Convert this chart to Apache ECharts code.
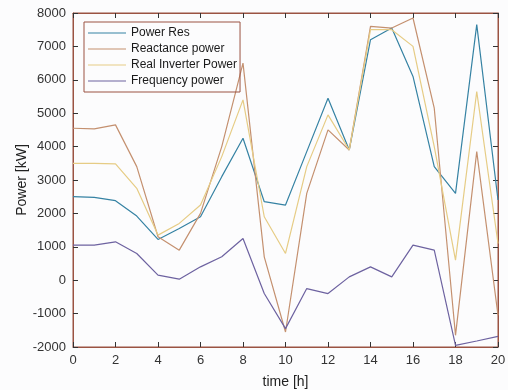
<!DOCTYPE html>
<html>
<head>
<meta charset="utf-8">
<script src="https://cdn.jsdelivr.net/npm/echarts@6/dist/echarts.min.js"></script>
<style>
html,body{margin:0;padding:0;background:#fcfcfd;}
#c{width:508px;height:390px;}
</style>
</head>
<body>
<div id="c"></div>
<script>
const hours = [0,1,2,3,4,5,6,7,8,9,10,11,12,13,14,15,16,17,18,19,20];
const seriesNames = ['Power Res','Reactance power','Real Inverter Power','Frequency power'];
const powerRes = [2500,2480,2380,1920,1220,1550,1900,3100,4250,2350,2250,3850,5450,3900,7200,7550,6100,3400,2600,7650,2400];
const reactancePower = [4550,4530,4650,3400,1300,900,2000,4000,6500,700,-1550,2600,4500,3900,7600,7550,7850,5150,-1650,3850,-1050];
const realInverterPower = [3500,3500,3480,2750,1350,1700,2250,3700,5400,1900,800,3400,4950,3900,7500,7500,7000,4000,600,5650,1100];
const frequencyPower = [1050,1050,1150,800,150,30,400,700,1250,-400,-1450,-250,-400,100,400,100,1050,900,-1950,-1820,-1680];
const xTicks = {min:0,max:20,interval:2};
const yTicks = {min:-2000,max:8000,interval:1000};

const colors = ['#3582a3','#c4906f','#e6cc85','#6d62a0'];
const frame = '#9b5342';
const font = 'Liberation Sans, Arial, sans-serif';
const allData = [powerRes, reactancePower, realInverterPower, frequencyPower];

const chart = echarts.init(document.getElementById('c'), null, {renderer:'canvas'});
const axisCommon = {
  axisLine:{show:true,onZero:false,lineStyle:{color:frame,width:1}},
  axisTick:{show:true,inside:true,length:5,lineStyle:{color:'#333'}},
  splitLine:{show:false}
};
chart.setOption({
  backgroundColor:'#fcfcfd',
  animation:false,
  color:colors,
  grid:{left:73,right:10,top:13,bottom:43,containLabel:false,outerBoundsMode:'none',show:true,borderColor:frame,borderWidth:1,backgroundColor:'transparent'},
  legend:{
    orient:'vertical',left:84,top:22,
    data:seriesNames,
    icon:'rect',
    itemWidth:38,itemHeight:1.2,itemGap:4,
    padding:[5,3,5,4],
    borderColor:frame,borderWidth:1,
    textStyle:{fontFamily:font,fontSize:12,lineHeight:12,color:'#1a1a1a'}
  },
  xAxis:[
    Object.assign({type:'value',min:xTicks.min,max:xTicks.max,interval:xTicks.interval,position:'bottom',
      name:'time [h]',nameLocation:'middle',nameGap:28,
      nameTextStyle:{fontFamily:font,fontSize:14,color:'#222'},
      axisLabel:{fontFamily:font,fontSize:13,color:'#333',margin:7,formatter:v=>String(v)}},axisCommon),
    Object.assign({type:'value',min:xTicks.min,max:xTicks.max,interval:xTicks.interval,position:'top',
      axisLabel:{show:false}},axisCommon)
  ],
  yAxis:[
    Object.assign({type:'value',min:yTicks.min,max:yTicks.max,interval:yTicks.interval,position:'left',
      name:'Power [kW]',nameLocation:'middle',nameGap:44,nameRotate:90,nameMoveOverlap:false,
      nameTextStyle:{fontFamily:font,fontSize:14,color:'#222'},
      axisLabel:{fontFamily:font,fontSize:13,color:'#333',margin:7,formatter:v=>String(v)}},axisCommon),
    Object.assign({type:'value',min:yTicks.min,max:yTicks.max,interval:yTicks.interval,position:'right',
      axisLabel:{show:false}},axisCommon)
  ],
  series: seriesNames.map((n,i)=>({
    name:n,type:'line',symbol:'none',
    lineStyle:{width:1.2,color:colors[i]},
    itemStyle:{color:colors[i]},
    data:hours.map((h,j)=>[h,allData[i][j]])
  }))
});
</script>
</body>
</html>
